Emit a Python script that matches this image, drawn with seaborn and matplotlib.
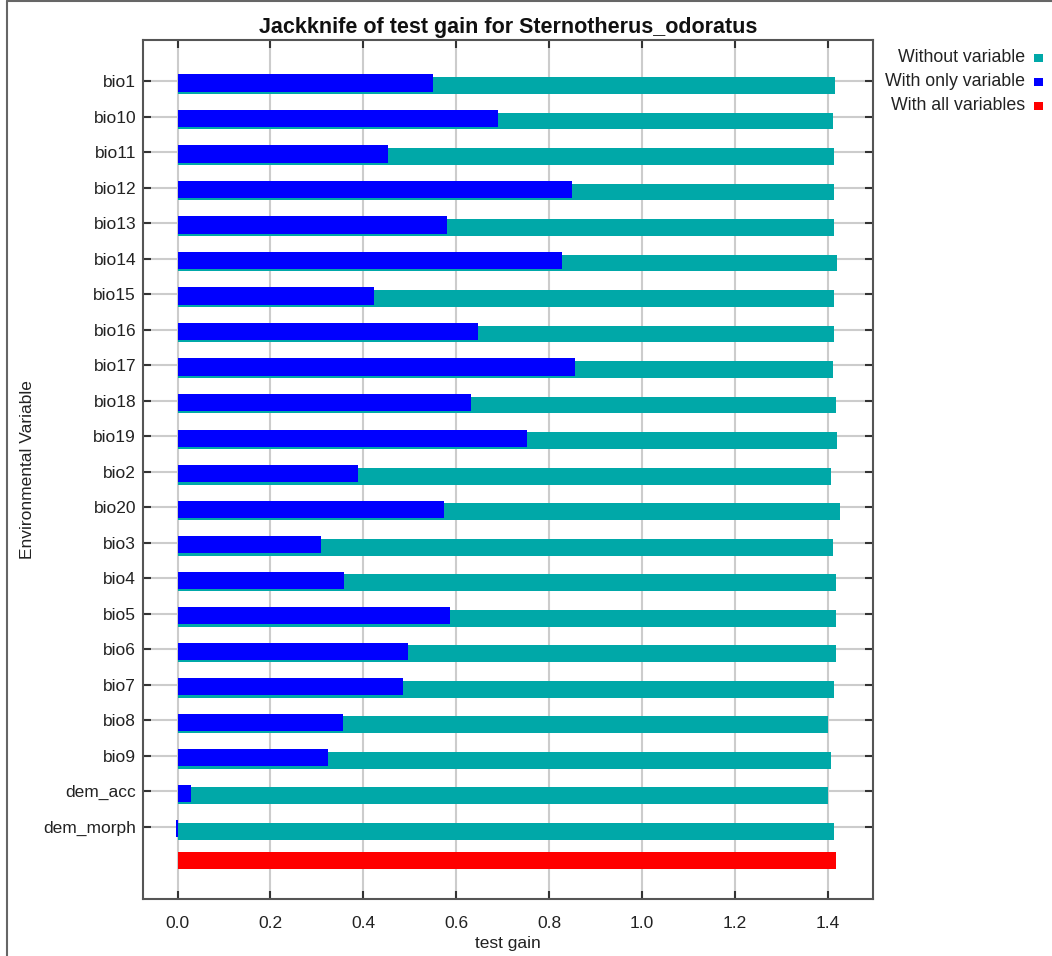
import matplotlib
matplotlib.use("Agg")
import matplotlib.pyplot as plt
import seaborn as sns
import numpy as np
import pandas as pd
from matplotlib.patches import Rectangle
from matplotlib.lines import Line2D

# ---- data ----
variables = ["bio1", "bio10", "bio11", "bio12", "bio13", "bio14", "bio15", "bio16",
             "bio17", "bio18", "bio19", "bio2", "bio20", "bio3", "bio4", "bio5",
             "bio6", "bio7", "bio8", "bio9", "dem_acc", "dem_morph"]
without_variable = [1.417, 1.411, 1.415, 1.415, 1.415, 1.421, 1.415, 1.415,
                    1.411, 1.418, 1.421, 1.408, 1.427, 1.411, 1.418, 1.418,
                    1.418, 1.415, 1.401, 1.408, 1.401, 1.415]
with_only_variable = [0.551, 0.691, 0.454, 0.850, 0.580, 0.827, 0.424, 0.648,
                      0.857, 0.632, 0.753, 0.389, 0.574, 0.310, 0.359, 0.587,
                      0.496, 0.486, 0.356, 0.323, 0.028, -0.004]
with_all_variables = [1.418]
x_ticks = [0.0, 0.2, 0.4, 0.6, 0.8, 1.0, 1.2, 1.4]

teal = "#00A8A8"
blue = "#0000FF"
red = "#FF0000"
txt = "#222222"

sns.set_style("white")
plt.rcParams["font.family"] = ["Liberation Sans", "DejaVu Sans"]

W, H = 1052, 956
fig = plt.figure(figsize=(W / 100, H / 100), dpi=100)
L, R, T, B = 143, 873, 40, 899
ax = fig.add_axes([L / W, 1 - B / H, (R - L) / W, (B - T) / H])

idx = np.arange(len(variables))
df_without = pd.DataFrame({"gain": without_variable, "pos": idx + 0.13})
df_only = pd.DataFrame({"gain": with_only_variable, "pos": idx + 0.056})
df_all = pd.DataFrame({"gain": with_all_variables, "pos": [len(variables) - 0.04]})

sns.barplot(data=df_without, x="gain", y="pos", orient="h", native_scale=True,
            width=0.47, color=teal, saturation=1, errorbar=None, linewidth=0, ax=ax)
sns.barplot(data=df_only, x="gain", y="pos", orient="h", native_scale=True,
            width=0.48, color=blue, saturation=1, errorbar=None, linewidth=0, ax=ax)
sns.barplot(data=df_all, x="gain", y="pos", orient="h", native_scale=True,
            width=0.47, color=red, saturation=1, errorbar=None, linewidth=0, ax=ax)

ax.set_xlim(-0.0745, 1.498)
ax.set_ylim(23.04, -1.155)
ax.set_yticks(idx)
ax.set_yticklabels(variables)
ax.set_xticks(x_ticks)
ax.set_xticklabels([f"{v:.1f}" for v in x_ticks])

ax.grid(True, color="#cccccc", linewidth=1.5)
ax.set_axisbelow(True)
ax.tick_params(axis="both", which="both", direction="in", length=6, width=1.5,
               color="#333333", top=True, right=True, left=True, bottom=True,
               labelsize=12.5, labelcolor=txt)
ax.tick_params(axis="y", pad=5)
ax.tick_params(axis="x", pad=12)
for s in ax.spines.values():
    s.set_color("#555555")
    s.set_linewidth(1.5)

ax.set_xlabel("test gain", fontsize=12.5, color=txt, labelpad=4)
ax.set_ylabel("Environmental Variable", fontsize=12.5, color=txt, labelpad=6)
ax.set_title("Jackknife of test gain for Sternotherus_odoratus", fontsize=15.5,
             fontweight="bold", color="#111111", pad=5)

# legend drawn at the right
leg = [("Without variable", teal, 58), ("With only variable", blue, 82),
       ("With all variables", red, 106)]
for label, col, yy in leg:
    fig.text(1025 / W, 1 - yy / H, label, ha="right", va="center",
             fontsize=12.8, color=txt)
    fig.add_artist(Rectangle((1034 / W, 1 - (yy + 4) / H), 9 / W, 8 / H,
                             transform=fig.transFigure, color=col, lw=0))

# outer frame lines (left and top)
fig.add_artist(Line2D([7 / W, 7 / W], [0, 1 - 1 / H], transform=fig.transFigure,
                      color="#666666", lw=1.5))
fig.add_artist(Line2D([7 / W, 1], [1 - 1 / H, 1 - 1 / H], transform=fig.transFigure,
                      color="#666666", lw=1.5))

fig.savefig("out.png", dpi=100)
